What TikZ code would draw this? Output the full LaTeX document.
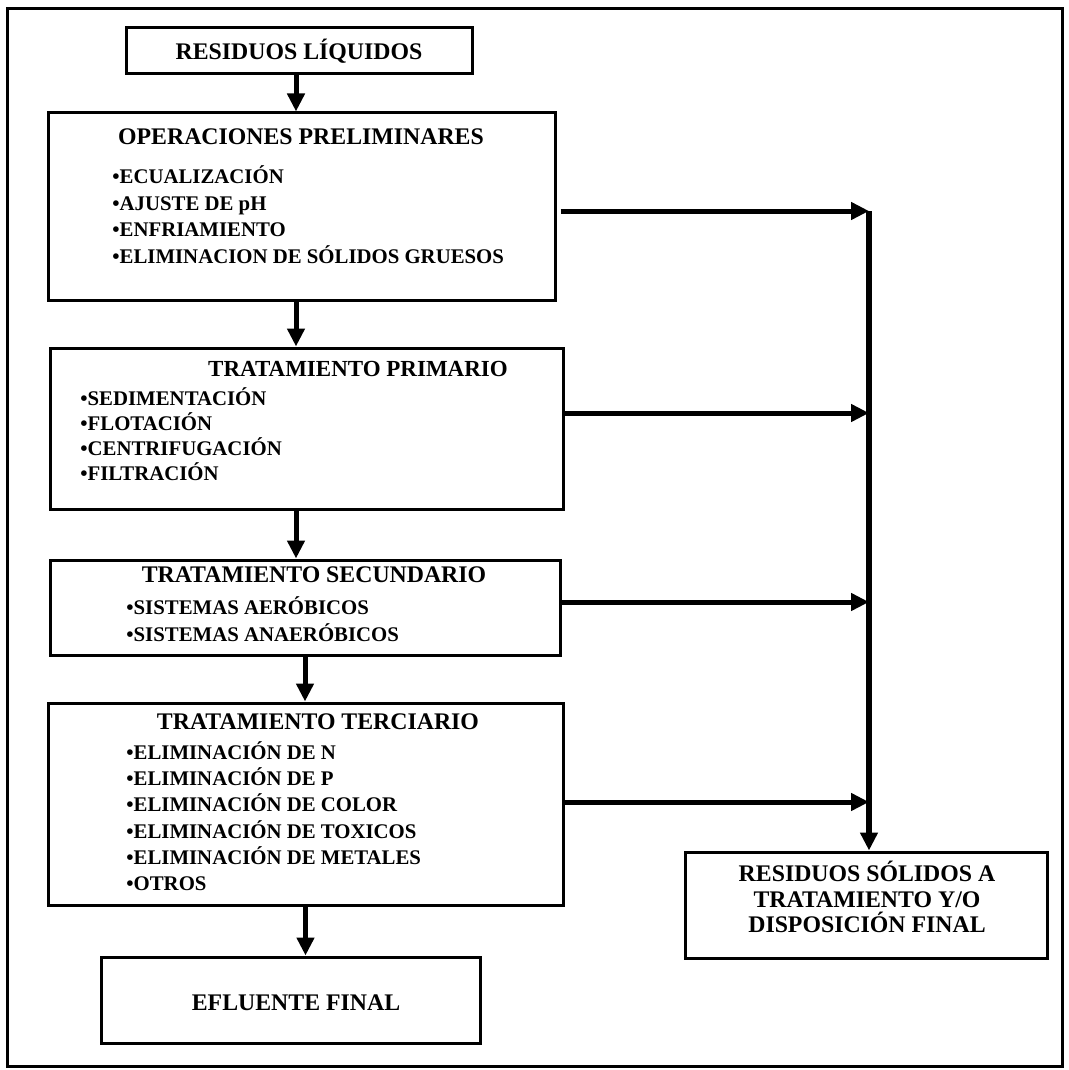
\documentclass[tikz,border=0pt]{standalone}
\usepackage{fontspec}
\setmainfont{Liberation Serif}
\usetikzlibrary{arrows.meta}

\begin{document}
\begin{tikzpicture}[
  x=0.5pt, y=-0.5pt,
  box/.style={draw=black, line width=1.5pt, inner sep=0pt},
  head/.style={font=\fontsize{11.9}{12.5}\selectfont\bfseries, inner sep=0pt},
  item/.style={font=\fontsize{10.4}{12}\selectfont\bfseries, inner sep=0pt, anchor=base west},
  arr/.style={line width=2.5pt, -{Triangle[length=9pt,width=8.5pt]}},
]
\useasboundingbox (0,0) rectangle (1069,1070);
\draw[line width=1.5pt] (7,9) rectangle (1062,1066);

% ---- main column ----
\node[box, head, minimum width=173pt, minimum height=23pt] (rl) at (299,51) {RESIDUOS LÍQUIDOS};

\node[box, minimum width=253.5pt, minimum height=93.5pt] (ops) at (301.5,206.5) {};
\node[head, anchor=base] (opsT) at (301,144) {OPERACIONES PRELIMINARES};
\foreach \t [count=\i] in {ECUALIZACIÓN, AJUSTE DE pH, ENFRIAMIENTO, ELIMINACION DE SÓLIDOS GRUESOS}
  \node[item] (ops\i) at (112,{183.5+26.5*(\i-1)}) {•\t};

\node[box, minimum width=256.5pt, minimum height=80.5pt] (prim) at (306.5,428.5) {};
\node[head, anchor=base, font=\fontsize{11.5}{12.5}\selectfont\bfseries] (primT) at (358,376) {TRATAMIENTO PRIMARIO};
\foreach \t [count=\i] in {SEDIMENTACIÓN, FLOTACIÓN, CENTRIFUGACIÓN, FILTRACIÓN}
  \node[item] (prim\i) at (80,{405+25*(\i-1)}) {•\t};

\node[box, minimum width=255pt, minimum height=47.5pt] (sec) at (305,607.5) {};
\node[head, anchor=base] (secT) at (314,582) {TRATAMIENTO SECUNDARIO};
\foreach \t [count=\i] in {SISTEMAS AERÓBICOS, SISTEMAS ANAERÓBICOS}
  \node[item] (sec\i) at (126,{614.5+27*(\i-1)}) {•\t};

\node[box, minimum width=257.5pt, minimum height=101pt] (ter) at (305.5,804) {};
\node[head, anchor=base] (terT) at (318,729) {TRATAMIENTO TERCIARIO};
\foreach \t [count=\i] in {ELIMINACIÓN DE N, ELIMINACIÓN DE P, ELIMINACIÓN DE COLOR,
    ELIMINACIÓN DE TOXICOS, ELIMINACIÓN DE METALES, OTROS}
  \node[item] (ter\i) at (126,{759.5+26.2*(\i-1)}) {•\t};

\node[box, minimum width=189.5pt, minimum height=43pt] (ef) at (290.5,1000) {};
\node[head, anchor=base] (efT) at (296,1010) {EFLUENTE FINAL};

% ---- solids column ----
\node[box, minimum width=181pt, minimum height=53pt] (rs) at (866,905) {};
\node[head, align=center, font=\fontsize{11.9}{12.6}\selectfont\bfseries] (rsT) at (867,897)
  {RESIDUOS SÓLIDOS A\\TRATAMIENTO Y/O\\DISPOSICIÓN FINAL};

\coordinate (ax) at (296,0);
\coordinate (j1) at (869,211);
\coordinate (j2) at (869,413);
\coordinate (j3) at (869,602);
\coordinate (j4) at (869,802);

% ---- connectors ----
\draw[arr] (rl.south -| ax) -- (ops.north -| ax);
\draw[arr] (ops.south -| ax) -- (prim.north -| ax);
\draw[arr] (prim.south -| ax) -- (sec.north -| ax);
\draw[arr] (sec.south) -- (sec.south |- ter.north);
\draw[arr] (ter.south) -- (ter.south |- ef.north);

\draw[arr] ([xshift=2pt]ops.east |- j1) -- (j1);
\draw[arr] (prim.east |- j2) -- (j2);
\draw[arr] (sec.east |- j3) -- (j3);
\draw[arr] (ter.east |- j4) -- (j4);
\draw[arr, line width=3.3pt] (j1) -- (rs.north -| j1);
\end{tikzpicture}
\end{document}
